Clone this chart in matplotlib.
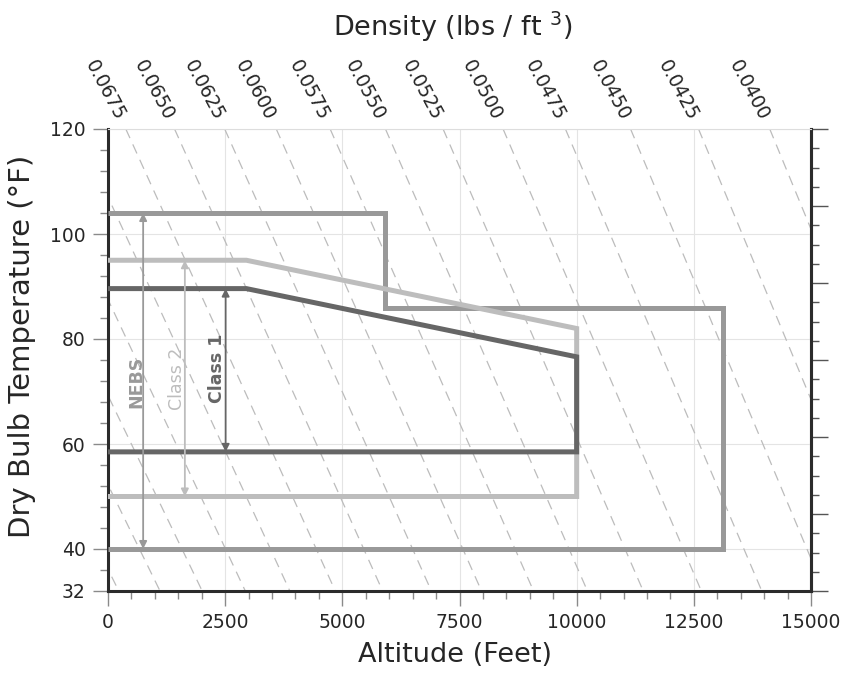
import matplotlib
matplotlib.use("Agg")
import matplotlib.pyplot as plt
import numpy as np
from matplotlib.ticker import FixedLocator, MultipleLocator

# ---------------- data ----------------
altitude_ticks = [0, 2500, 5000, 7500, 10000, 12500, 15000]
temp_ticks = [32, 40, 60, 80, 100, 120]

# constant-density lines (lbs/ft^3): altitude where each crosses 120 F and 32 F
density_values = [0.0800, 0.0775, 0.0750, 0.0725, 0.0700, 0.0675, 0.0650, 0.0625,
                  0.0600, 0.0575, 0.0550, 0.0525, 0.0500, 0.0475, 0.0450, 0.0425, 0.0400]
density_alt_at_120F = [-4670, -3720, -2740, -1715, -670, 380, 1420, 2490,
                       3590, 4740, 5920, 7150, 8430, 9760, 11150, 12600, 14120]
density_alt_at_32F = [230, 1110, 2010, 2930, 3880, 4850, 5860, 6900,
                      7970, 9080, 10230, 11420, 12660, 13950, 15290, 16700, 18180]

# environmental envelopes
nebs_alt = [0, 5906, 5906, 13123, 13123, 0]
nebs_temp = [104, 104, 86, 86, 40, 40]
class2_alt = [0, 2953, 10000, 10000, 0]
class2_temp = [95, 95, 82, 50, 50]
class1_alt = [0, 2953, 10000, 10000, 0]
class1_temp = [89.6, 89.6, 76.6, 58.5, 58.5]

range_names = ["NEBS", "Class 2", "Class 1"]
range_arrow_alt = [750, 1640, 2510]
range_top = [104, 95, 89.6]
range_bottom = [40, 50, 58.5]
range_text_alt = [610, 1465, 2330]
range_text_temp = [71.8, 72.5, 74.4]
range_weights = ["bold", "normal", "bold"]
range_colors = ["#999999", "#bdbdbd", "#666666"]

# ---------------- figure ----------------
W, H = 850, 673
fig = plt.figure(figsize=(W / 100, H / 100), dpi=100)
ax = fig.add_axes([108 / W, 1 - 591 / H, 703 / W, 462 / H])
ax.set_xlim(0, 15000)
ax.set_ylim(32, 120)
ax.set_axisbelow(True)

txt = "#262626"

# density lines
for d, a_top, a_bot in zip(density_values, density_alt_at_120F, density_alt_at_32F):
    ax.plot([a_top, a_bot], [120, 32], color="#bcbcbc", lw=0.9,
            linestyle=(0, (8, 5.5)), zorder=1)
    if 0 <= a_top <= 15000:
        ax.annotate(f"{d:.4f}", xy=(a_top, 120), xytext=(-4, 7),
                    textcoords="offset points", rotation=-62,
                    rotation_mode="anchor", ha="right", va="center",
                    fontsize=13.5, color=txt, annotation_clip=False)

# envelopes
ax.plot(nebs_alt, nebs_temp, color=range_colors[0], lw=3.6, zorder=3,
        solid_joinstyle="miter", solid_capstyle="butt")
ax.plot(class2_alt, class2_temp, color=range_colors[1], lw=3.6, zorder=4,
        solid_joinstyle="miter", solid_capstyle="butt")
ax.plot(class1_alt, class1_temp, color=range_colors[2], lw=3.6, zorder=5,
        solid_joinstyle="miter", solid_capstyle="butt")

# range arrows and labels
for name, xa, top, bot, xt, yt, wgt, col in zip(range_names, range_arrow_alt, range_top,
                                                range_bottom, range_text_alt, range_text_temp,
                                                range_weights, range_colors):
    ax.annotate("", xy=(xa, top), xytext=(xa, bot),
                arrowprops=dict(arrowstyle="<|-|>", color=col, lw=1.3,
                                mutation_scale=11, shrinkA=0, shrinkB=0),
                zorder=6)
    ax.text(xt, yt, name, rotation=90, ha="center", va="center", fontsize=12.5,
            fontweight=wgt, color=col, zorder=6)

# grid
ax.grid(True, which="major", color="#e4e4e4", lw=0.8)

# ticks
ax.set_xticks(altitude_ticks)
ax.set_yticks(temp_ticks)
ax.xaxis.set_minor_locator(MultipleLocator(500))
ax.yaxis.set_minor_locator(MultipleLocator(4))
ax.tick_params(which="major", direction="out", length=11, width=1,
               color="#8a8a8a", labelsize=13.5, labelcolor=txt, pad=5)
ax.tick_params(which="minor", direction="out", length=6, width=1, color="#8a8a8a")

for s in ["left", "bottom", "right"]:
    ax.spines[s].set_linewidth(2.2)
    ax.spines[s].set_color("#2b2b2b")
ax.spines["top"].set_color("#dddddd")
ax.spines["top"].set_linewidth(0.8)

# decorative right axis
sec = ax.secondary_yaxis("right")
sec.set_yticks(np.linspace(32, 120, 7))
sec.yaxis.set_minor_locator(FixedLocator(np.linspace(32, 120, 25)))
sec.set_yticklabels([])
sec.tick_params(which="major", direction="out", length=12, width=1, color="#555555")
sec.tick_params(which="minor", direction="out", length=6, width=1, color="#555555")
sec.spines["right"].set_linewidth(2.2)
sec.spines["right"].set_color("#2b2b2b")

# titles
fig.text(455 / W, 1 - 655 / H, "Altitude (Feet)", ha="center", va="center",
         fontsize=19.5, color=txt)
fig.text(22 / W, 1 - 346 / H, "Dry Bulb Temperature (°F)", ha="center", va="center",
         rotation=90, fontsize=21, color=txt)
fig.text(453 / W, 1 - 27 / H, r"Density (lbs / ft $^{3}$)", ha="center", va="center",
         fontsize=19.5, color=txt)

fig.savefig("out.png", dpi=100, facecolor="white")
